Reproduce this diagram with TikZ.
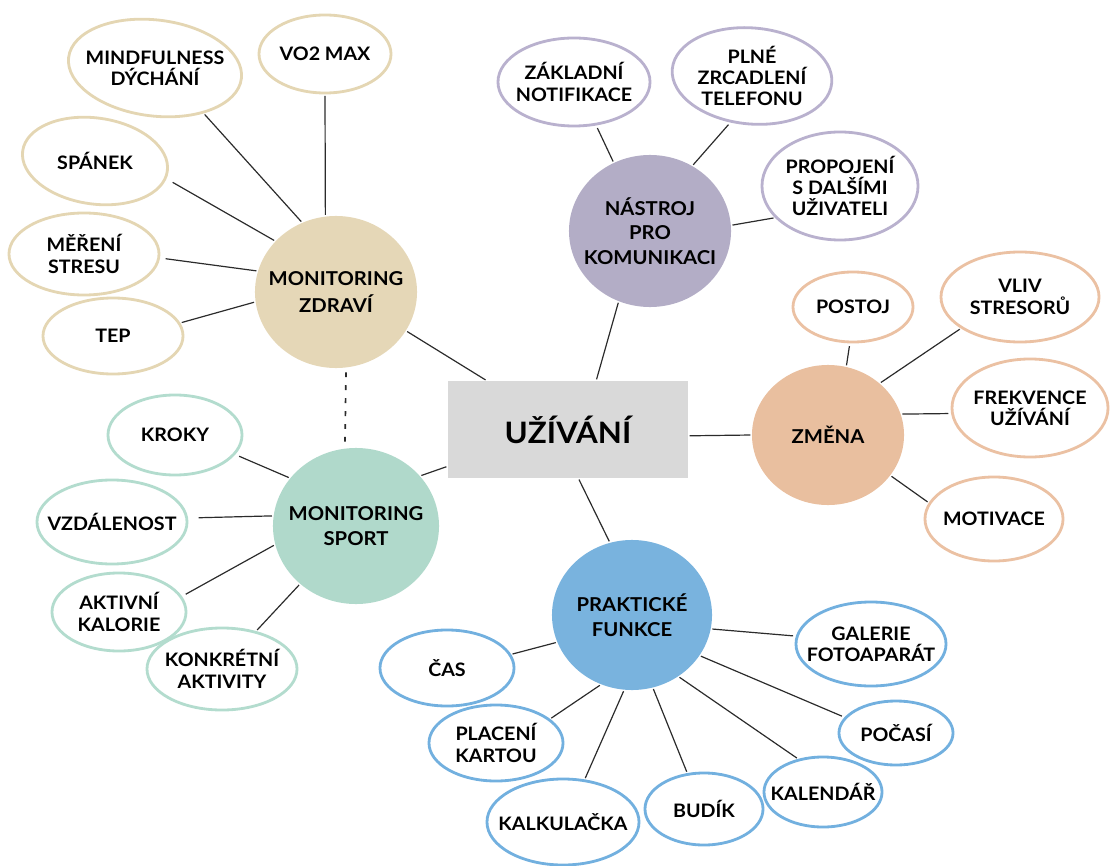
\documentclass[tikz,border=0pt]{standalone}
\usepackage{fontspec}
\usetikzlibrary{shapes.geometric,calc}
\newfontfamily\lab{Lato}[FakeStretch=1.06]
\definecolor{beigeF}{HTML}{E5D7B7}
\definecolor{beigeB}{HTML}{E4D6B3}
\definecolor{lavF}{HTML}{B3ADC6}
\definecolor{lavB}{HTML}{B9B1CE}
\definecolor{peachF}{HTML}{E9BF9F}
\definecolor{peachB}{HTML}{EBC1A3}
\definecolor{mintF}{HTML}{B0D9CB}
\definecolor{mintB}{HTML}{B3DCCE}
\definecolor{blueF}{HTML}{79B3DE}
\definecolor{blueB}{HTML}{72B0DF}
\definecolor{rectF}{HTML}{D9D9D9}
\definecolor{lineC}{HTML}{2B2B2B}
\tikzset{
  leaf/.style 2 args={ellipse, inner sep=0pt, minimum width=#1*0.05cm, minimum height=#2*0.05cm,
    line width=2pt, fill=white},
  hub/.style 2 args={ellipse, inner sep=0pt, minimum width=#1*0.05cm, minimum height=#2*0.05cm,
    draw=none},
  lt/.style={align=center, text=black, inner sep=0pt,
    font=\lab\bfseries\fontsize{13.2}{15.2}\selectfont},
  ht/.style={align=center, text=black, inner sep=0pt,
    font=\lab\bfseries\fontsize{13.6}{17.5}\selectfont},
  hl/.style={draw=beigeB}, cl/.style={draw=lavB}, pl/.style={draw=peachB},
  ml/.style={draw=mintB}, bl/.style={draw=blueB},
  conn/.style={draw=lineC, line width=0.85pt, shorten <=1pt, shorten >=1pt},
  dotline/.style={draw=lineC, line width=1.2pt, dash pattern=on 3.5pt off 5.7pt},
}
\begin{document}
\begin{tikzpicture}[x=0.025cm, y=-0.025cm]
\useasboundingbox (0,0) rectangle (1110,866);
% centre
\node[rectangle, fill=rectF, minimum width=6cm, minimum height=2.425cm, inner sep=0pt,
  font=\lab\bfseries\fontsize{21}{24}\selectfont] (uz) at (568,429.5) {UŽÍVÁNÍ};
% hubs
\node[hub={81}{76}, fill=beigeF, label={[ht, font=\lab\bfseries\fontsize{13.6}{19.5}\selectfont]center:MONITORING\\ZDRAVÍ}] (hz) at (336,292) {};
\node[hub={83}{78}, fill=mintF, label={[ht]center:MONITORING\\SPORT}] (sp) at (356,526) {};
\node[hub={81}{76}, fill=lavF, label={[ht]center:NÁSTROJ\\PRO\\KOMUNIKACI}] (nk) at (650,231) {};
\node[hub={76}{70}, fill=peachF, label={[ht]center:ZMĚNA}] (zm) at (828,435) {};
\node[hub={80}{75}, fill=blueF, label={[ht]center:PRAKTICKÉ\\FUNKCE}] (pf) at (632,615) {};
% health leaves
\node[leaf={87}{48}, hl, rotate=-7, label={[lt]center:MINDFULNESS\\DÝCHÁNÍ}] (mind) at (155,68) {};
\node[leaf={66}{39}, hl, label={[lt]center:VO2 MAX}] (vo2) at (325,54) {};
\node[leaf={73}{43}, hl, rotate=-8, label={[lt]center:SPÁNEK}] (span) at (95,161) {};
\node[leaf={75}{41}, hl, label={[lt]center:MĚŘENÍ\\STRESU}] (mer) at (84,254) {};
\node[leaf={70}{38}, hl, label={[lt]center:TEP}] (tep) at (113,336) {};
% sport leaves
\node[leaf={67}{40}, ml, label={[lt]center:KROKY}] (kro) at (175,435) {};
\node[leaf={75}{42}, ml, label={[lt]center:VZDÁLENOST}] (vzd) at (112,522) {};
\node[leaf={67}{39}, ml, label={[lt]center:AKTIVNÍ\\KALORIE}] (akt) at (119,612) {};
\node[leaf={75}{41}, ml, label={[lt]center:KONKRÉTNÍ\\AKTIVITY}] (kon) at (222,669) {};
% communication leaves
\node[leaf={76}{44}, cl, label={[lt]center:ZÁKLADNÍ\\NOTIFIKACE}] (zak) at (574,82) {};
\node[leaf={80}{48}, cl, rotate=-5, label={[lt]center:PLNÉ\\ZRCADLENÍ\\TELEFONU}] (pln) at (752,76) {};
\node[leaf={78}{54}, cl, label={[lt]center:PROPOJENÍ\\S DALŠÍMI\\UŽIVATELI}] (pro) at (840,186) {};
% change leaves
\node[leaf={60}{35}, pl, label={[lt]center:POSTOJ}] (pos) at (853,307) {};
\node[leaf={79}{45}, pl, label={[lt]center:VLIV\\STRESORŮ}] (vli) at (1020,297) {};
\node[leaf={78}{49}, pl, label={[lt]center:FREKVENCE\\UŽÍVÁNÍ}] (fre) at (1030,408) {};
\node[leaf={69}{42}, pl, label={[lt]center:MOTIVACE}] (mot) at (994,519) {};
% practical leaves
\node[leaf={67}{38}, bl, label={[lt]center:ČAS}] (cas) at (447,668) {};
\node[leaf={67}{38}, bl, label={[lt]center:PLACENÍ\\KARTOU}] (pla) at (496,743) {};
\node[leaf={76}{43}, bl, label={[lt]center:KALKULAČKA}] (kal) at (563,822) {};
\node[leaf={59}{36}, bl, label={[lt]center:BUDÍK}] (bud) at (704,809) {};
\node[leaf={59}{35}, bl, label={[lt]center:KALENDÁŘ}] (kalen) at (823,792) {};
\node[leaf={57}{32}, bl, label={[lt]center:POČASÍ}] (poc) at (896,733) {};
\node[leaf={75}{42}, bl, label={[lt]center:GALERIE\\FOTOAPARÁT}] (gal) at (871,644) {};
% connectors: hubs to centre
\draw[conn] (hz.-29) -- (uz.149);
\draw[conn] (sp.38.9) -- (uz.197.8);
\draw[conn] (nk.246.6) -- (uz.60.9);
\draw[conn] (zm.180) -- (uz.-3.1);
\draw[conn] (pf.107.3) -- (uz.-78.6);
\draw[dotline] ($(hz.south)+(10,4)$) -- ($(sp.north)+(-11,-6)$);
% health
\draw[conn] (mind.-36) -- (hz.116.9);
\draw[conn] (vo2.-90) -- (hz.98.7);
\draw[conn, shorten <=5pt] (span.-6) -- (hz.140.4);
\draw[conn, shorten <=4pt] (mer.-3) -- (hz.165.8);
\draw[conn] (tep.11.8) -- (hz.187.9);
% sport
\draw[conn, shorten <=3pt] (kro.-18.2) -- (sp.144.4);
\draw[conn, shorten <=7.5pt] (vzd.3.3) -- (sp.173.8);
\draw[conn, shorten <=3pt] (akt.14.6) -- (sp.193.4);
\draw[conn] (kon.48) -- (sp.226.5);
% communication
\draw[conn, shorten <=2pt] (zak.-63.4) -- (nk.118.2);
\draw[conn, shorten <=2pt] (pln.-110.6) -- (nk.57.1);
\draw[conn] (pro.206.6) -- (nk.4.9);
% change
\draw[conn, shorten <=2pt] (pos.-95.7) -- (zm.75.2);
\draw[conn] (vli.208.4) -- (zm.45);
\draw[conn, shorten <=2pt] (fre.184.1) -- (zm.16);
\draw[conn] (mot.166.5) -- (zm.-33.3);
% practical
\draw[conn] (cas.12.3) -- (pf.200.7);
\draw[conn] (pla.24.5) -- (pf.246.5);
\draw[conn] (kal.63.9) -- (pf.264.7);
\draw[conn] (bud.115.3) -- (pf.286.1);
\draw[conn] (kalen.127.1) -- (pf.-53.3);
\draw[conn, shorten <=2pt] (poc.163.9) -- (pf.-31);
\draw[conn, shorten <=2pt] (gal.174.4) -- (pf.-10.5);
\end{tikzpicture}
\end{document}
